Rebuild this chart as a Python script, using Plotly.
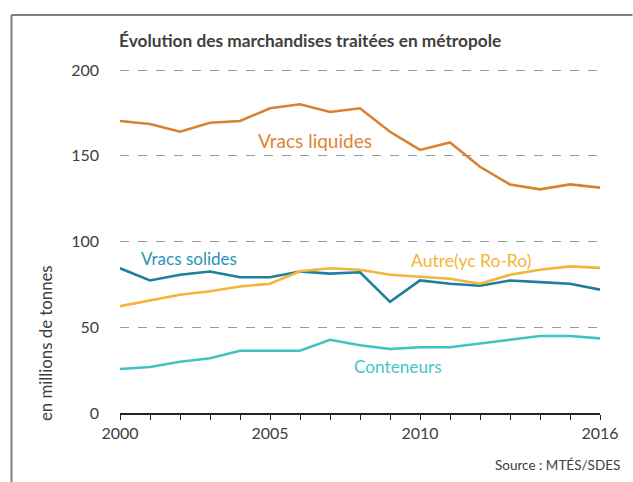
import plotly.graph_objects as go

years = list(range(2000, 2017))
vracs_liquides = [170.3, 168.5, 164.0, 169.3, 170.3, 177.7, 180.0, 175.5, 177.7, 164.0, 153.4, 157.8, 143.6, 133.3, 130.4, 133.3, 131.4]
vracs_solides = [84.4, 77.3, 80.6, 82.5, 79.2, 79.2, 82.5, 81.3, 82.1, 64.8, 77.3, 75.4, 74.2, 77.3, 76.3, 75.4, 71.9]
autre = [62.3, 65.8, 69.0, 71.0, 73.8, 75.4, 82.7, 84.4, 83.5, 80.6, 79.6, 78.3, 75.4, 80.6, 83.5, 85.5, 84.6]
conteneurs = [25.7, 26.8, 29.9, 31.9, 36.3, 36.3, 36.3, 42.7, 39.5, 37.3, 38.3, 38.3, 40.6, 42.6, 44.9, 44.9, 43.5]

series_names = ["Vracs liquides", "Vracs solides", "Autre(yc Ro-Ro)", "Conteneurs"]
line_colors = ["#DA812F", "#1C7FA0", "#F4B43A", "#3FC3C3"]
label_colors = ["#DE8536", "#2A93B8", "#F5B535", "#45C6C6"]
label_sizes = [19, 17, 17.5, 17.2]
label_x = [2006.5, 2002.3, 2011.7, 2009.25]
label_y = [159, 90, 88.8, 27]

x_tick_vals = years
x_tick_text = [str(y) if y in (2000, 2005, 2010, 2016) else "" for y in years]
y_tick_vals = [0, 50, 100, 150, 200]

FONT = "Lato, 'Open Sans', sans-serif"
TXT = "#404040"

fig = go.Figure()
for name, vals, col in zip(series_names, [vracs_liquides, vracs_solides, autre, conteneurs], line_colors):
    fig.add_trace(go.Scatter(x=years, y=vals, mode="lines", name=name,
                             line=dict(color=col, width=2.6), showlegend=False,
                             hoverinfo="x+y+name"))

annotations = []
for name, lx, ly, c, s in zip(series_names, label_x, label_y, label_colors, label_sizes):
    annotations.append(dict(x=lx, y=ly, xref="x", yref="y", text=name, showarrow=False,
                            font=dict(family=FONT, size=s, color=c)))

# plot area: x 120..600 px, y 69..413 px (344 px)
H = 344.0
def py(p):
    return (413 - p) / H
def px(p):
    return (p - 120) / 480.0

annotations.append(dict(x=px(117), y=py(40), xref="paper", yref="paper", xanchor="left", yanchor="middle",
                        text="<b>Évolution des marchandises traitées en métropole</b>", showarrow=False,
                        font=dict(family=FONT, size=17.3, color=TXT)))
annotations.append(dict(x=px(45), y=py(343), xref="paper", yref="paper", xanchor="center", yanchor="middle",
                        text="en millions de tonnes", textangle=-90, showarrow=False,
                        font=dict(family=FONT, size=16.8, color=TXT)))
annotations.append(dict(x=px(622), y=py(465), xref="paper", yref="paper", xanchor="right", yanchor="middle",
                        text="Source : MTÉS/SDES", showarrow=False,
                        font=dict(family=FONT, size=13.5, color=TXT)))

shapes = [
    dict(type="line", xref="paper", yref="paper", x0=px(11.5), x1=px(632.5), y0=py(15), y1=py(15),
         line=dict(color="#7f7f7f", width=2)),
    dict(type="line", xref="paper", yref="paper", x0=px(11.5), x1=px(11.5), y0=py(15), y1=py(490),
         line=dict(color="#7f7f7f", width=2)),
]

fig.update_layout(
    width=633, height=482,
    margin=dict(l=120, r=33, t=69, b=69),
    paper_bgcolor="white", plot_bgcolor="white",
    annotations=annotations, shapes=shapes,
    xaxis=dict(range=[2000, 2016], tickvals=x_tick_vals, ticktext=x_tick_text,
               showgrid=False, zeroline=False, showline=True, linecolor="#222222", linewidth=1.5,
               ticks="outside", ticklen=5, tickcolor="#222222", tickwidth=1.2,
               tickfont=dict(family=FONT, size=16, color=TXT), fixedrange=True),
    yaxis=dict(range=[0, 200.6], tickvals=y_tick_vals, showgrid=True, gridcolor="#9a9a9a",
               griddash="dash", gridwidth=1, zeroline=False, showline=False,
               ticks="", ticklabelstandoff=20,
               tickfont=dict(family=FONT, size=16, color=TXT), fixedrange=True),
)

fig.write_html("out.html", config={"displayModeBar": False},
               post_script="document.body.style.margin='0';document.body.style.padding='0';document.body.style.overflow='hidden';")
